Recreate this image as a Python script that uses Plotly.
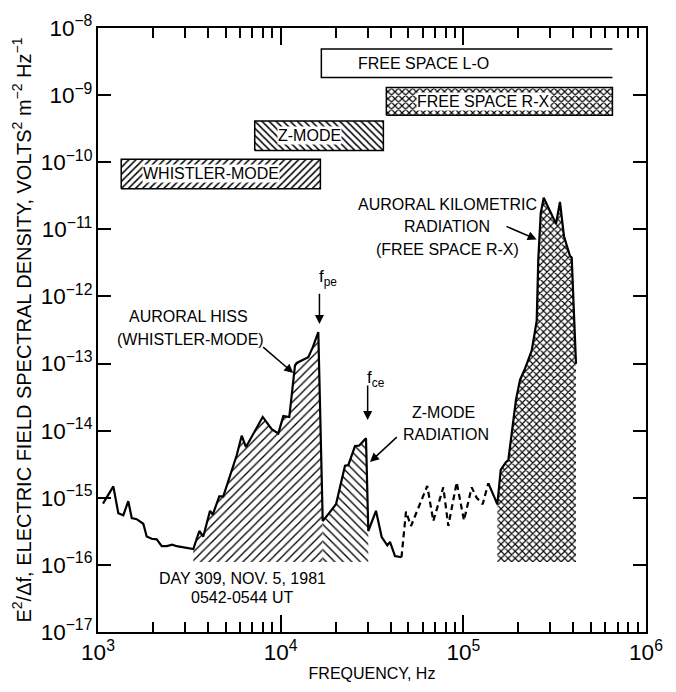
import numpy as np
import plotly.graph_objects as go

# Electric field spectrum, day 309 (Nov. 5, 1981), 0542-0544 UT
freq_hz = [1065, 1213, 1292, 1376, 1465, 1530, 1629, 1770, 1848, 1968, 2096, 2233, 2377, 2551, 2697, 3325,
           3586, 3771, 4104, 4246, 4613, 4851, 5745, 6119, 6461, 7973, 8932, 9705, 10340, 11150, 11980,
           12240, 14170, 14980, 16070, 16990,
           18230, 20090, 22500, 23460, 25520, 26950, 29320, 30180,
           33250, 35730, 38350, 39670, 42260, 45860,
           48540, 51700, 63480, 68480, 77690, 82750, 91970, 100800, 111100, 118300, 127600, 137000,
           153500, 160200, 171200, 176200, 194200, 204300, 217600, 236700, 252100, 257300, 265200,
           275400, 298200, 321600, 338100, 355600, 383700, 392000, 413800]
psd = [8.2e-16, 1.48e-15, 5.9e-16, 5.5e-16, 8.9e-16, 5.0e-16, 4.8e-16, 4.1e-16, 2.65e-16, 2.45e-16,
       2.4e-16, 1.9e-16, 1.9e-16, 2.0e-16, 1.9e-16, 1.72e-16,
       3.2e-16, 2.65e-16, 6.4e-16, 5.6e-16, 1.05e-15, 1.05e-15, 4.3e-15, 8.4e-15, 5.7e-15, 1.6e-14,
       1.05e-14, 9.1e-15, 1.65e-14, 1.6e-14, 9.4e-14, 1.02e-13, 1.24e-13, 1.74e-13, 2.95e-13, 4.5e-16,
       5.7e-16, 8.0e-16, 3.0e-15, 3.06e-15, 5.9e-15, 6.0e-15, 7.7e-15, 3.2e-16,
       6.4e-16, 2.6e-16, 1.95e-16, 2.2e-16, 1.35e-16, 1.3e-16,
       6.2e-16, 3.8e-16, 1.5e-15, 4.5e-16, 1.43e-15, 3.8e-16, 1.7e-15, 4.6e-16, 1.43e-15, 1.0e-15,
       8.0e-16, 1.65e-15,
       8.0e-16, 2.6e-15, 3.4e-15, 3.6e-15, 2.9e-14, 5.7e-14, 8.4e-14, 1.56e-13, 4.3e-13, 3.6e-12,
       1.73e-11, 2.95e-11, 1.83e-11, 1.21e-11, 2.56e-11, 7.9e-12, 4.0e-12, 3.8e-12, 9.9e-14]

# Emission bands (Hz) shaded under the spectrum, down to fill_floor
hiss_band = (3325, 16990)
zmode_band = (16990, 30180)
akr_band = (153500, 413800)
fill_floor = 1.1e-16
# Portion of the spectrum drawn dashed
dashed_band = (45860, 137000)

# Wave-mode frequency ranges shown as bars
mode_names = ["WHISTLER-MODE", "Z-MODE", "FREE SPACE R-X", "FREE SPACE L-O"]
mode_f_lo = [1340, 7210, 37900, 16700]
mode_f_hi = [16500, 36500, 655000, 655000]
mode_psd_lo = [4.03e-11, 1.50e-10, 5.0e-10, 1.83e-9]
mode_psd_hi = [1.11e-10, 4.11e-10, 1.30e-9, 4.85e-9]

FONT = "Liberation Sans, Arial, sans-serif"

f = np.array(freq_hz, dtype=float)
p = np.array(psd, dtype=float)

fig = go.Figure()


def band_polygon(lo, hi):
    sel = (f >= lo) & (f <= hi)
    xs = np.concatenate([[lo], f[sel], [hi]])
    ys = np.concatenate([[fill_floor], p[sel], [fill_floor]])
    return xs, ys


def add_fill(xs, ys, shape, size, solidity):
    fig.add_trace(go.Scatter(
        x=xs, y=ys, mode="lines", fill="toself", line=dict(width=0, color="black"),
        fillcolor="white",
        fillpattern=dict(shape=shape, size=size, solidity=solidity,
                         fgcolor="black", bgcolor="white", fillmode="replace"),
        hoverinfo="skip", showlegend=False))


# Shaded emissions
add_fill(*band_polygon(*hiss_band), "/", 6, 0.22)
add_fill(*band_polygon(*zmode_band), "\\", 6, 0.22)
add_fill(*band_polygon(*akr_band), "x", 5, 0.4)

# Spectrum line: solid, dashed, solid
seg1 = f <= dashed_band[0]
seg2 = (f >= dashed_band[0]) & (f <= dashed_band[1])
seg3 = f >= dashed_band[1]
for sel, dash in [(seg1, "solid"), (seg2, "6px,4px"), (seg3, "solid")]:
    fig.add_trace(go.Scatter(x=f[sel], y=p[sel], mode="lines",
                             line=dict(color="black", width=2.2, dash=dash),
                             hoverinfo="skip", showlegend=False))

# Mode range bars
shapes_for_modes = ["/", "\\", "x", ""]
for name, lo, hi, plo, phi, sh in zip(mode_names, mode_f_lo, mode_f_hi,
                                      mode_psd_lo, mode_psd_hi, shapes_for_modes):
    if sh:
        fig.add_trace(go.Scatter(
            x=[lo, hi, hi, lo, lo], y=[plo, plo, phi, phi, plo], mode="lines",
            fill="toself", fillcolor="white",
            fillpattern=dict(shape=sh, size=5, solidity=0.3 if sh != "x" else 0.42,
                             fgcolor="black", bgcolor="white", fillmode="replace"),
            line=dict(color="black", width=1.5), hoverinfo="skip", showlegend=False))
    else:
        # open-ended bracket (continues beyond the plotted range)
        fig.add_trace(go.Scatter(
            x=[hi, lo, lo, hi], y=[phi, phi, plo, plo], mode="lines",
            line=dict(color="black", width=1.5), hoverinfo="skip", showlegend=False))

L = np.log10
annotations = []


def text(t, fx, py, size=16, boxed=False, **kw):
    fnt = dict(family=FONT, size=size, color="black")
    extra = dict(bgcolor="white", borderpad=0) if boxed else {}
    annotations.append(dict(x=L(fx), y=L(py), xref="x", yref="y", text=t, showarrow=False,
                            font=fnt, **extra, **kw))


def arrow(f_tail, p_tail, f_head, p_head):
    annotations.append(dict(x=L(f_head), y=L(p_head), ax=L(f_tail), ay=L(p_tail),
                            xref="x", yref="y", axref="x", ayref="y", text="",
                            showarrow=True, arrowhead=2, arrowsize=1.2, arrowwidth=1.5,
                            arrowcolor="black", standoff=0, startstandoff=0))


# Bar labels
label_f = [4180, 14300, 129000, 60500]
for name, lf, plo, phi, sh in zip(mode_names, label_f, mode_psd_lo, mode_psd_hi, shapes_for_modes):
    text(name, lf, np.sqrt(plo * phi), boxed=bool(sh))

# Auroral kilometric radiation
text("AURORAL KILOMETRIC", 81800, 2.37e-11)
text("RADIATION", 81800, 1.09e-11)
text("(FREE SPACE R-X)", 81800, 5.05e-12)
arrow(169000, 1.13e-11, 252000, 7.06e-12)

# Auroral hiss
text("AURORAL HISS", 3110, 5.06e-13)
text("(WHISTLER-MODE)", 3190, 2.30e-13)
arrow(7870, 1.84e-13, 11720, 7.24e-14)

# Plasma and cyclotron frequencies
text("f<sub>pe</sub>", 18160, 1.90e-12, size=17)
arrow(16300, 1.15e-12, 16300, 3.9e-13)
text("f<sub>ce</sub>", 33270, 5.93e-14, size=17)
arrow(29940, 4.95e-14, 29940, 1.44e-14)

# Z-mode radiation
text("Z-MODE", 78300, 1.84e-14)
text("RADIATION", 80400, 8.9e-15)
arrow(44060, 8.41e-15, 30830, 3.42e-15)

# Date
text("DAY 309, NOV. 5, 1981", 6180, 6.17e-17)
text("0542-0544 UT", 6180, 3.25e-17)

axis_common = dict(
    type="log", showgrid=False, zeroline=False, showline=True, linecolor="black", linewidth=2,
    mirror="ticks", ticks="inside", tickcolor="black", tickwidth=1.5, dtick=1,
    exponentformat="power", tickfont=dict(family=FONT, size=18, color="black"),
)

fig.update_layout(
    width=676, height=692,
    margin=dict(l=98, r=30, t=24, b=52),
    paper_bgcolor="white", plot_bgcolor="white",
    showlegend=False,
    annotations=annotations,
    xaxis=dict(**axis_common, range=[3, 6], ticklen=17,
               minor=dict(ticks="inside", ticklen=10, tickwidth=1.5, tickcolor="black",
                          dtick="D1", showgrid=False),
               title=dict(text="FREQUENCY, Hz", font=dict(family=FONT, size=16, color="black"),
                          standoff=4)),
    yaxis=dict(**axis_common, range=[-17, -8], ticklen=13,
               title=dict(text="E<sup>2</sup>/Δf, ELECTRIC FIELD SPECTRAL DENSITY, VOLTS<sup>2</sup>"
                               " m<sup>−2</sup> Hz<sup>−1</sup>",
                          font=dict(family=FONT, size=20, color="black"), standoff=4)),
)

fig.write_html("out.html")
